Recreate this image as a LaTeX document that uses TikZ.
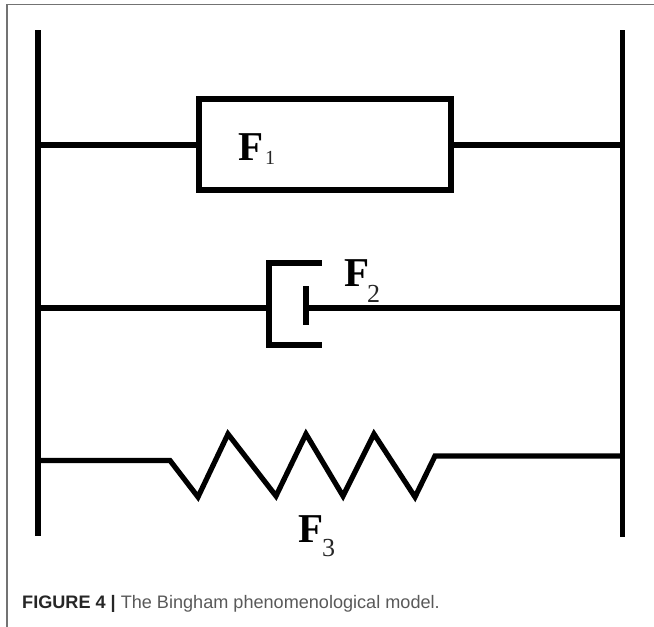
\documentclass[tikz,border=0pt]{standalone}
\usepackage{fontspec}
\setmainfont{Liberation Serif}
\setsansfont{Liberation Sans}

\tikzset{
  bar/.style={line width=5.8pt},
  wire/.style={line width=5.2pt, line join=miter},
  framerule/.style={line width=1.4pt, draw=black!55},
  symb/.style={anchor=base west, inner sep=0pt, font=\fontsize{41}{41}\selectfont\bfseries},
  subsymb/.style={anchor=base west, inner sep=0pt, font=\fontsize{#1}{#1}\selectfont, text=black!85},
  captiontext/.style={anchor=base west, inner sep=0pt, font=\fontsize{18.1}{20}\selectfont\sffamily, text=black!65}
}

\begin{document}
\begin{tikzpicture}[x=1pt, y=-1pt]
  \useasboundingbox (0,0) rectangle (654,627);

  % Page frame
  \draw[framerule] (654,4.5) -- (7,4.5) -- (7,627);

  % End bars
  \coordinate (LT) at (38,30);
  \coordinate (LB) at (38,536);
  \coordinate (RT) at (622.5,30);
  \coordinate (RB) at (622.5,537);
  \draw[bar] (LT) -- (LB);
  \draw[bar] (RT) -- (RB);

  % Box element
  \coordinate (A) at (199,99);
  \coordinate (B) at (450.5,99);
  \coordinate (C) at (450.5,190);
  \coordinate (D) at (199,190);
  \draw[wire, line width=6pt] (A) -- (B) -- (C) -- (D) -- cycle;
  \draw[wire] (38,145) -- (199,145);
  \draw[wire] (450.5,145) -- (622.5,145);

  % Damper element
  \coordinate (E) at (321.5,263);
  \coordinate (G) at (269,263);
  \coordinate (H) at (269,345);
  \coordinate (I) at (321.5,345);
  \coordinate (P) at (305.5,308);
  \draw[wire, line width=5.6pt] (E) -- (G) -- (H) -- (I);
  \draw[wire, line width=6pt] (305.5,286) -- (305.5,325);
  \draw[wire] (38,308) -- (269,308);
  \draw[wire] (P) -- (622.5,308);

  % Spring element
  \draw[wire] (38,460.5) -- (170,460.5) -- (198,497) -- (228,434) -- (276,496)
    -- (306,434) -- (343,496) -- (374,434) -- (415,497) -- (435,456) -- (622.5,456);

  % Labels
  \node[symb] (F1) at (238,160) {F};
  \node[subsymb=20] (S1) at (265,164.5) {1};
  \node[symb] (F2) at (344,286) {F};
  \node[subsymb=26] (S2) at (367,302) {2};
  \node[symb] (F3) at (298,542) {F};
  \node[subsymb=26] (S3) at (322,556) {3};

  % Caption
  \node[captiontext] (cap) at (22,608.5) {\textbf{\color{black!85}FIGURE 4 |} The Bingham phenomenological model.};
\end{tikzpicture}
\end{document}
